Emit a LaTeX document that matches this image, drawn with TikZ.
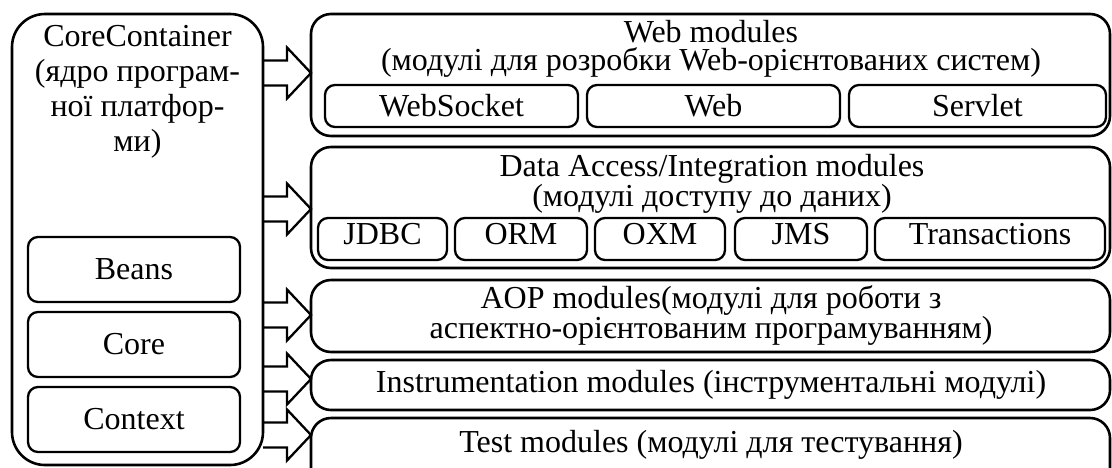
\documentclass[tikz,border=0pt]{standalone}
\usepackage{fontspec}
\setmainfont{Liberation Serif}
\usetikzlibrary{calc}

% outline arrow from the side of a container to a tip coordinate
\newcommand\blockarrow[2]{%
  \draw[blockarrow] ($(#1.east |- #2)+(0,-12.5)$) -- ($(#2)+(-24,-12.5)$)
    -- ($(#2)+(-24,-25.5)$) -- (#2) -- ($(#2)+(-24,25.5)$)
    -- ($(#2)+(-24,12.5)$) -- ($(#1.east |- #2)+(0,12.5)$);}

\tikzset{
  outerbox/.style={draw, line width=2.6pt, rounded corners=33pt, inner sep=0pt,
    outer sep=0pt, anchor=north west},
  panel/.style={draw, line width=2.6pt, rounded corners=20pt, inner sep=0pt,
    outer sep=0pt, anchor=north west},
  item/.style={draw, line width=2.3pt, rounded corners=10pt, inner sep=0pt,
    outer sep=0pt, anchor=north west, font=\fontsize{32}{36}\selectfont},
  raised/.style={text height=21pt, text depth=11pt},
  sidetitle/.style={inner sep=0pt, align=center, anchor=north,
    font=\fontsize{32}{35}\selectfont},
  paneltitle/.style={inner sep=0pt, align=center, anchor=north,
    font=\fontsize{32}{28.5}\selectfont},
  blockarrow/.style={draw, line width=2.3pt, line join=miter},
}

\begin{document}
\begin{tikzpicture}[x=1pt,y=-1pt]
\useasboundingbox (0,0) rectangle (1112,467);
\clip (0,0) rectangle (1112,467);

% core container with its three parts
\node[outerbox, minimum width=251pt, minimum height=451pt] (cc) at (12,14) {};
\node[sidetitle] (cctitle) at (137.5,25.5)
  {CoreContainer\\(ядро програм-\\ної платфор-\\ми)};
\node[item, minimum width=212pt, minimum height=65pt] (beans)   at (28,237) {Beans};
\node[item, minimum width=212pt, minimum height=65pt] (core)    at (28,312) {Core};
\node[item, minimum width=212pt, minimum height=65pt] (context) at (28,387) {Context};

% module groups
\node[panel, minimum width=799pt, minimum height=122pt] (web)   at (311,14)  {};
\node[panel, minimum width=799pt, minimum height=121pt] (data)  at (311,147) {};
\node[panel, minimum width=799pt, minimum height=72pt]  (aop)   at (311,280) {};
\node[panel, minimum width=799pt, minimum height=50pt]  (instr) at (311,360) {};
\node[panel, minimum width=799pt, minimum height=80pt]  (test)  at (311,418) {};

\node[paneltitle] (webtitle) at (711,20)
  {Web modules\\(модулі для розробки Web-орієнтованих систем)};
\node[paneltitle] (datatitle) at (712,154)
  {Data Access/Integration modules\\(модулі доступу до даних)};
\node[paneltitle, font=\fontsize{32}{26.5}\selectfont] (aoptitle) at (711,285)
  {AOP modules(модулі для роботи з\\аспектно-орієнтованим програмуванням)};
\node[paneltitle, anchor=base] (instrtitle) at (711,392.5)
  {Instrumentation modules (інструментальні модулі)};
\node[paneltitle, anchor=base] (testtitle) at (711,452)
  {Test modules (модулі для тестування)};

% web modules
\node[item, minimum width=253pt, minimum height=42pt] (websocket) at (325,85) {WebSocket};
\node[item, minimum width=253pt, minimum height=42pt] (webm)      at (587,85) {Web};
\node[item, minimum width=257pt, minimum height=42pt] (servlet)   at (849,85) {Servlet};

% data access modules
\node[item, raised, minimum width=129pt, minimum height=42pt] (jdbc)  at (318,218) {JDBC};
\node[item, raised, minimum width=132pt, minimum height=42pt] (orm)   at (455,218) {ORM};
\node[item, raised, minimum width=130pt, minimum height=42pt] (oxm)   at (595,218) {OXM};
\node[item, raised, minimum width=132pt, minimum height=42pt] (jms)   at (735,218) {JMS};
\node[item, raised, minimum width=230pt, minimum height=42pt] (trans) at (875,218) {Transactions};

% arrow tips on the module groups
\coordinate (t1) at (web.west |- 0,73);
\coordinate (t2) at (data.west |- 0,209);
\coordinate (t3) at (aop.west |- 0,315);
\coordinate (t4) at (instr.west |- 0,379);
\coordinate (t5) at (test.west |- 0,435);

\blockarrow{cc}{t1}
\blockarrow{cc}{t2}
\blockarrow{cc}{t3}
\blockarrow{cc}{t4}
\blockarrow{cc}{t5}
\end{tikzpicture}
\end{document}
